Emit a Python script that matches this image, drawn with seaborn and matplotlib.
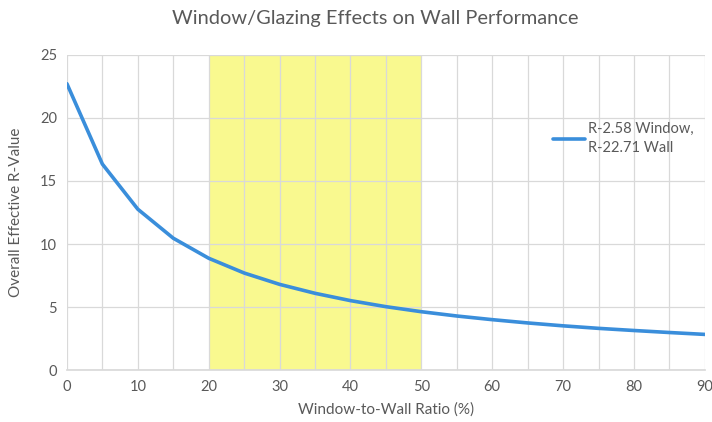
import matplotlib
matplotlib.use("Agg")
import matplotlib.pyplot as plt
import seaborn as sns
import pandas as pd
from matplotlib.ticker import MultipleLocator

wwr = [0, 5, 10, 15, 20, 25, 30, 35, 40, 45, 50, 55, 60, 65, 70, 75, 80, 85, 90]
r_value = [22.71, 16.34, 12.76, 10.46, 8.87, 7.70, 6.80, 6.09, 5.51, 5.03, 4.63,
           4.29, 4.00, 3.74, 3.51, 3.31, 3.14, 2.98, 2.83]
series_label = "R-2.58 Window,\nR-22.71 Wall"
band = (20, 50)

df = pd.DataFrame({"wwr": wwr, "r": r_value})

sns.set_theme(style="white")
plt.rcParams['font.family'] = ['Lato', 'DejaVu Sans']

fig = plt.figure(figsize=(7.12, 4.22), dpi=100)
ax = fig.add_axes([0.094, 0.123, 0.896, 0.747])

ax.axvspan(band[0], band[1], color="#f9f98f", zorder=0, lw=0)
sns.lineplot(data=df, x="wwr", y="r", ax=ax, color="#3a8edb", linewidth=2.6,
             label=series_label, zorder=3)

ax.set_xlim(0, 90)
ax.set_ylim(0, 25)
ax.xaxis.set_major_locator(MultipleLocator(10))
ax.xaxis.set_minor_locator(MultipleLocator(5))
ax.yaxis.set_major_locator(MultipleLocator(5))
ax.grid(True, which="both", axis="x", color="#d9d9d9", linewidth=0.9, zorder=1)
ax.grid(True, which="major", axis="y", color="#d9d9d9", linewidth=0.9, zorder=1)
ax.set_axisbelow(True)
for s in ["top", "right", "left"]:
    ax.spines[s].set_visible(False)
ax.spines["bottom"].set_color("#d9d9d9")

ax.tick_params(axis="both", which="both", length=0, labelsize=10.5, labelcolor="#595959", pad=7)
ax.set_xlabel("Window-to-Wall Ratio (%)", fontsize=11, color="#595959", labelpad=6)
ax.set_ylabel("Overall Effective R-Value", fontsize=11, color="#595959", labelpad=12)
fig.text(0.527, 0.955, "Window/Glazing Effects on Wall Performance", fontsize=14.4,
         color="#595959", ha="center", va="center")

leg = ax.legend(loc="upper left", bbox_to_anchor=(0.742, 0.83), frameon=False,
                fontsize=10.5, handlelength=2.2, handletextpad=0.2)
for t in leg.get_texts():
    t.set_color("#595959")
    t.set_linespacing(1.5)

fig.savefig("out.png", dpi=100)
